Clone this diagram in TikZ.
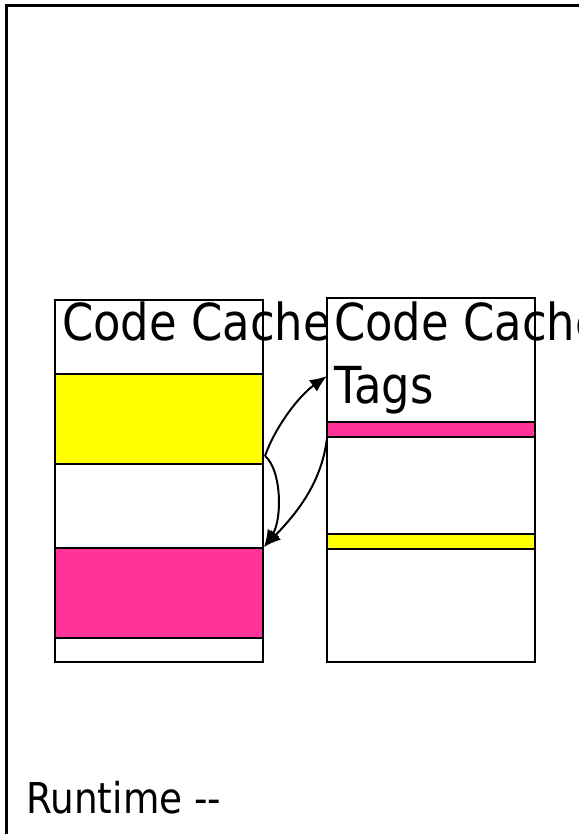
\documentclass[tikz,border=0pt]{standalone}
\usepackage{fontspec}
\setmainfont{DejaVu Sans}[FakeStretch=0.88]
\usetikzlibrary{arrows.meta}
\definecolor{ylw}{HTML}{FFFF00}
\definecolor{mgt}{HTML}{FF3399}
\tikzset{
  boxframe/.style={draw=black, line width=2.8pt, fill=white, inner sep=0pt, minimum width=208pt},
  band/.style={draw=black, line width=2.8pt, inner sep=0pt, minimum width=208pt},
  bigtext/.style={inner sep=0pt, anchor=base west, font=\fontsize{51}{63}\selectfont},
  link/.style={line width=2pt, -{Latex[length=17pt,width=14pt]}},
}
\begin{document}
\begin{tikzpicture}[x=1pt,y=-1pt]
\useasboundingbox (0,0) rectangle (578,834);
\fill[white] (0,0) rectangle (578,834);
% outer frame
\draw[line width=3.5pt] (6.5,850) -- (6.5,5.5) -- (600,5.5);
% left box
\node[boxframe, minimum height=362pt] (lbox) at (159,481) {};
\node[band, fill=ylw, minimum height=90pt] (ly) at (159,419) {};
\node[band, fill=mgt, minimum height=90pt] (lm) at (159,593) {};
\node[bigtext] (ltxt) at (62,340) {Code Cache};
% right box
\node[boxframe, minimum height=364pt] (rbox) at (431,480) {};
\node[band, fill=mgt, minimum height=15pt] (rm) at (431,429.5) {};
\node[band, fill=ylw, minimum height=15pt] (ry) at (431,541.5) {};
\node[bigtext] (rtxt) at (334,340) {Code Cache};
\node[bigtext] (rtags) at (334,403) {Tags};
% connectors
\coordinate (a) at (265,456);
\coordinate (t1) at (327,376);
\coordinate (t2) at (264,547);
\coordinate (s3) at (327,438);
\draw[link] (a) .. controls (276,425) and (300,395) .. (t1);
\draw[link] (a) .. controls (282,470) and (282,520) .. (t2);
\draw[link] (s3) .. controls (322,480) and (300,510) .. (t2);
% bottom label
\node[inner sep=0pt, anchor=base west, font=\fontsize{42.5}{50}\selectfont] (rt) at (26,813) {Runtime -{}-};
\end{tikzpicture}
\end{document}
